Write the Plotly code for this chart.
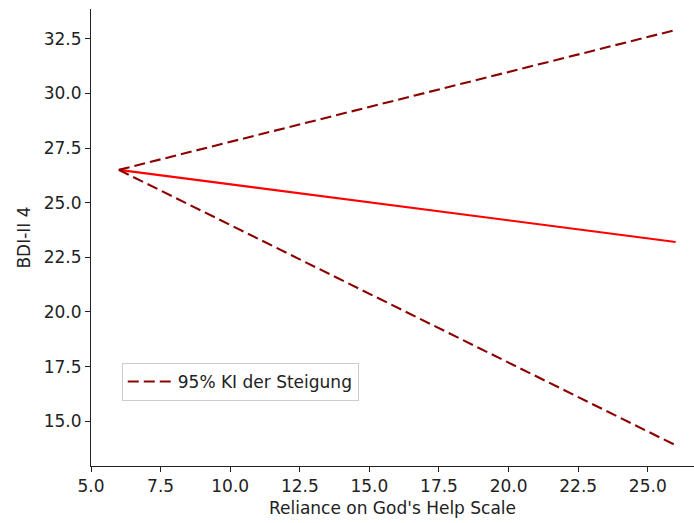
import plotly.graph_objects as go

x_vals = [6, 26]
slope_line = [26.5, 23.2]
ci_upper = [26.5, 32.9]
ci_lower = [26.5, 13.9]

x_ticks = [5.0, 7.5, 10.0, 12.5, 15.0, 17.5, 20.0, 22.5, 25.0]
y_ticks = [15.0, 17.5, 20.0, 22.5, 25.0, 27.5, 30.0, 32.5]

dash = "11px,5px"
fig = go.Figure()
fig.add_trace(go.Scatter(x=x_vals, y=slope_line, mode="lines",
                         line=dict(color="red", width=2.1), showlegend=False))
fig.add_trace(go.Scatter(x=x_vals, y=ci_upper, mode="lines",
                         line=dict(color="#8B0000", width=2.1, dash=dash),
                         name="95% KI der Steigung"))
fig.add_trace(go.Scatter(x=x_vals, y=ci_lower, mode="lines",
                         line=dict(color="#8B0000", width=2.1, dash=dash),
                         showlegend=False))

font = dict(family="DejaVu Sans", size=17, color="#222")
axis_common = dict(showgrid=False, zeroline=False, showline=True, linecolor="#222",
                   linewidth=1, ticks="outside", ticklen=5, tickwidth=1, tickcolor="#222",
                   tickfont=font, mirror=False, automargin=False)
fig.update_layout(
    width=694, height=523,
    margin=dict(l=91, r=0, t=9, b=57),
    plot_bgcolor="white", paper_bgcolor="white",
    font=font,
    xaxis=dict(range=[5.0, 26.66], tickvals=x_ticks, ticktext=[f"{v:.1f}" for v in x_ticks],
               title=dict(text="Reliance on God's Help Scale", font=font, standoff=6),
               **axis_common),
    yaxis=dict(range=[12.95, 33.86], tickvals=y_ticks, ticktext=[f"{v:.1f}" for v in y_ticks],
               title=dict(text="BDI-II 4", font=font, standoff=8),
               **axis_common),
    legend=dict(x=0.051, y=0.184, xanchor="left", yanchor="middle",
                bgcolor="white", bordercolor="#cccccc", borderwidth=1,
                font=font, itemwidth=45),
)
fig.write_html("out.html", config={"displayModeBar": False},
               post_script="document.body.style.margin='0';document.body.style.overflow='hidden';")
